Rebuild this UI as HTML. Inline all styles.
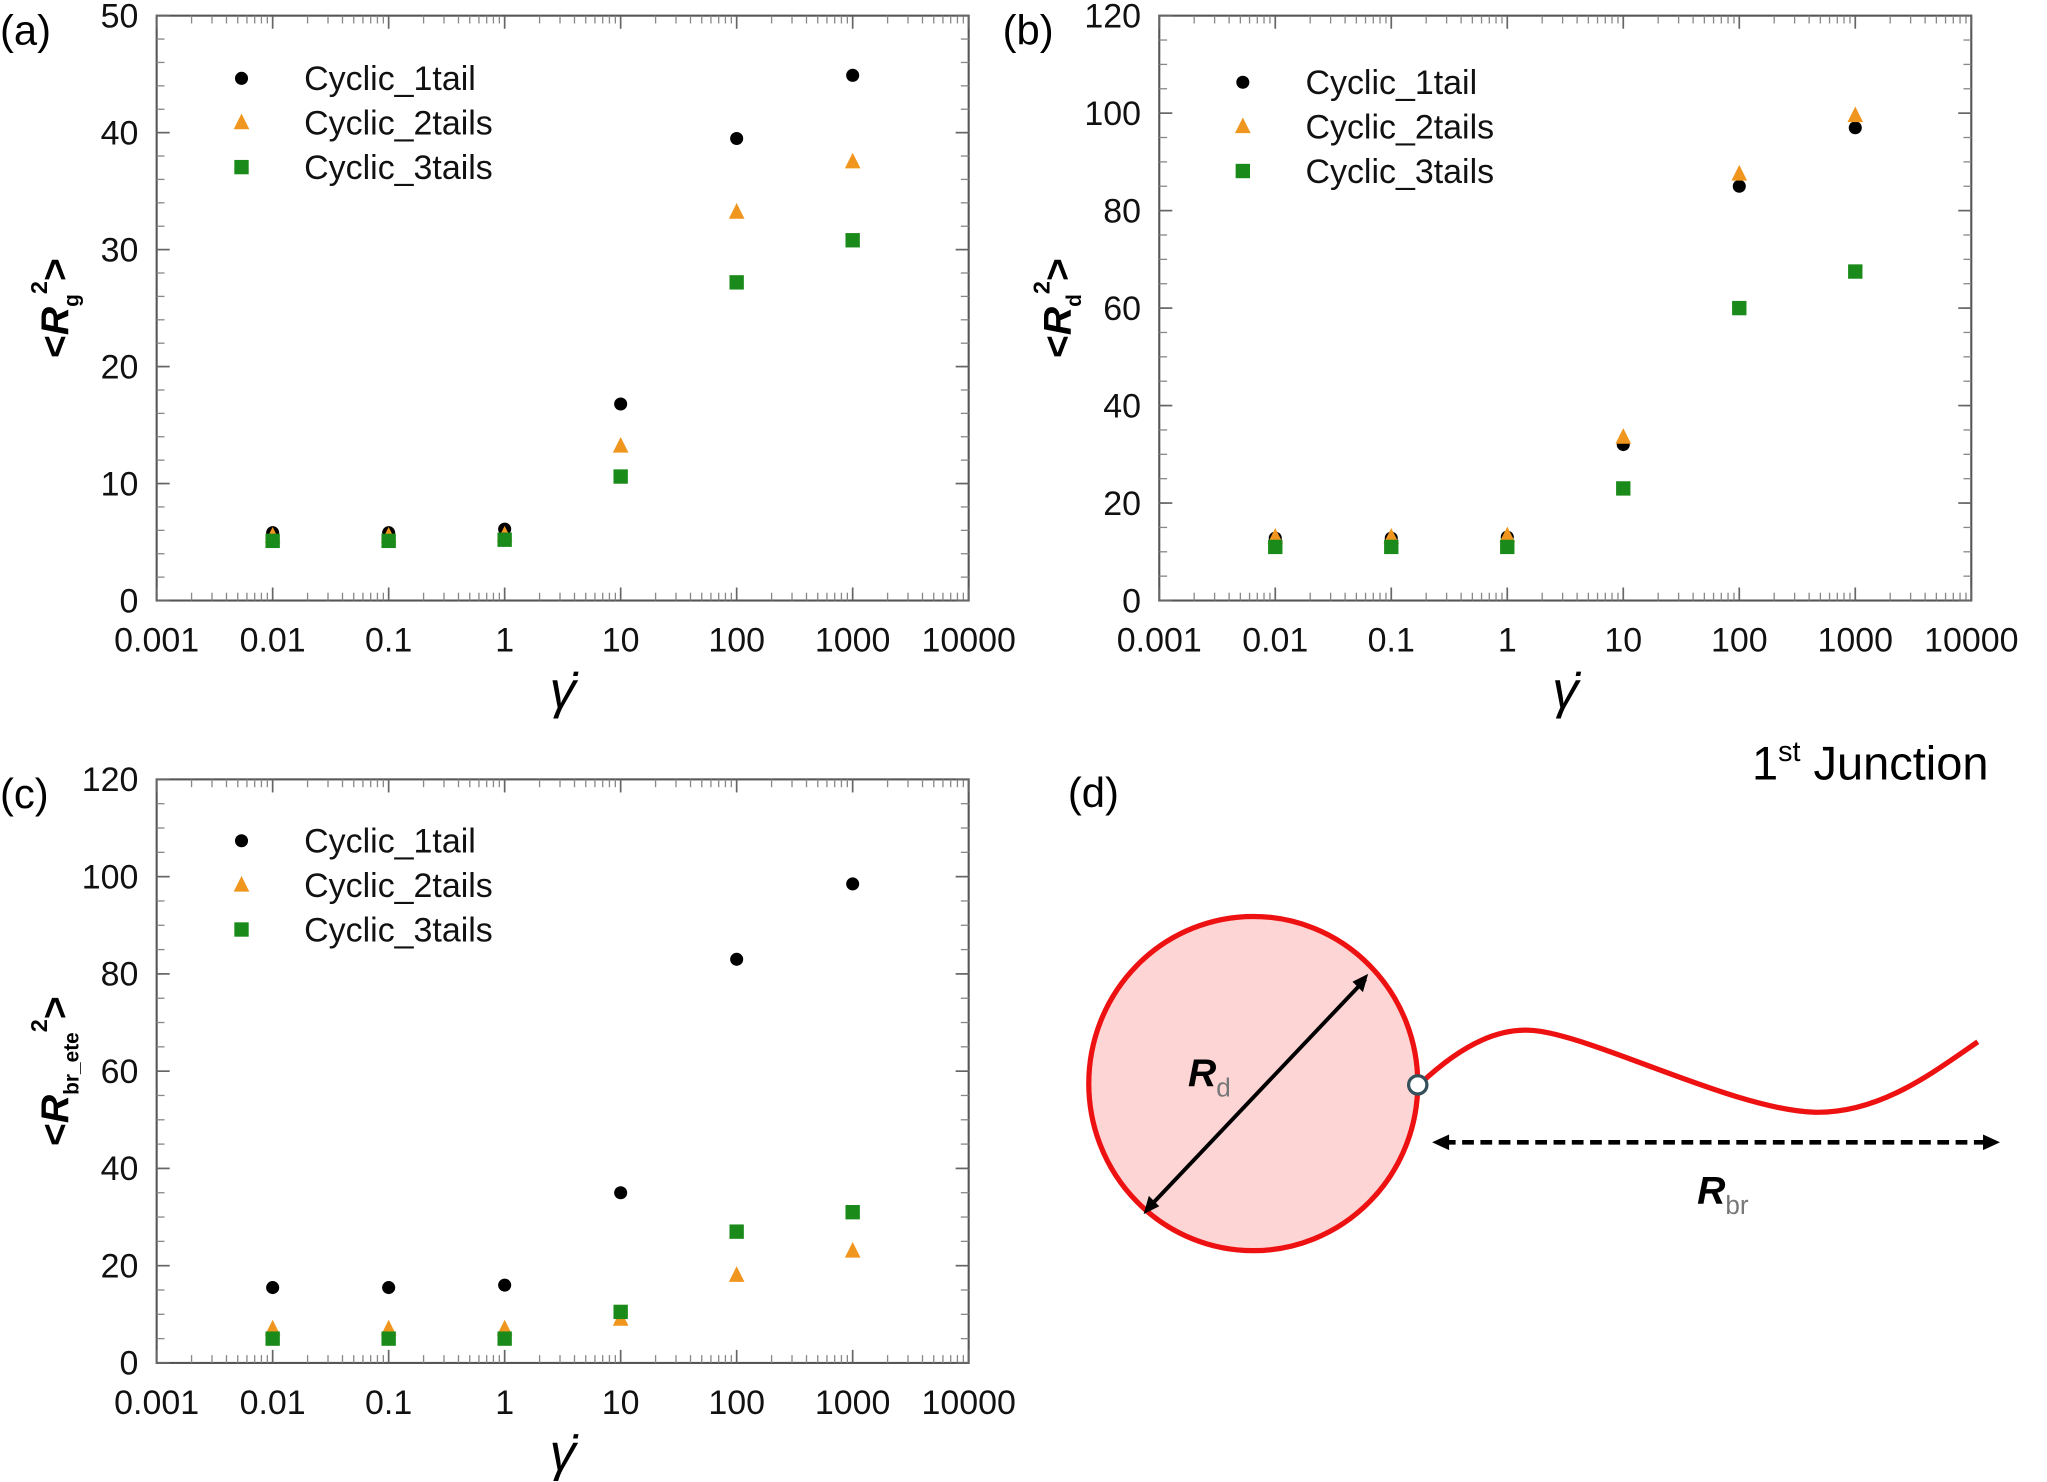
<!DOCTYPE html>
<html><head><meta charset="utf-8"><style>
html,body{margin:0;padding:0;background:#fff}
svg{display:block}
text{font-family:"Liberation Sans",sans-serif}
</style></head><body>
<svg id="fig" width="2047" height="1482" viewBox="0 0 1568 1135.2" preserveAspectRatio="none" xmlns="http://www.w3.org/2000/svg">
<g id="panels"></g>
<g id="diagram">
  <text x="818" y="618" font-size="32" font-family="DejaVu Sans, sans-serif">(d)</text>
  <text x="1342" y="597" font-size="36" font-family="DejaVu Sans, sans-serif">1<tspan font-size="22" dy="-14">st</tspan><tspan dy="14"> Junction</tspan></text>
  <ellipse cx="960" cy="830" rx="126" ry="128" fill="#fdd5d5" stroke="#ee1111" stroke-width="4"/>
  <line x1="879" y1="926" x2="1046" y2="750" stroke="#000" stroke-width="3"/>
  <polygon points="1048,746 1036,752 1044,760" fill="#000"/>
  <polygon points="876,930 880,916 888,924" fill="#000"/>
  <text x="910" y="832" font-size="30" font-weight="bold" font-style="italic">R<tspan font-size="20" font-style="normal" font-weight="normal" fill="#777" dy="8">d</tspan></text>
  <path d="M1088,830 C1120,800 1150,785 1180,790 C1230,798 1330,850 1390,852 C1440,853 1480,822 1515,798" fill="none" stroke="#ee1111" stroke-width="4"/>
  <circle cx="1086" cy="831" r="7" fill="#fff" stroke="#34505a" stroke-width="2.5"/>
  <line x1="1106" y1="875" x2="1522" y2="875" stroke="#000" stroke-width="3.5" stroke-dasharray="9,5"/>
  <polygon points="1097,875 1110,869 1110,881" fill="#000"/>
  <polygon points="1532,875 1519,869 1519,881" fill="#000"/>
  <text x="1300" y="922" font-size="30" font-weight="bold" font-style="italic">R<tspan font-size="20" font-style="normal" font-weight="normal" fill="#777" dy="8">br</tspan></text>
</g>
</svg>
<script>
const xCats = [0.01, 0.1, 1, 10, 100, 1000];
const xTickLabels = ["0.001","0.01","0.1","1","10","100","1000","10000"];
const seriesNames = ["Cyclic_1tail","Cyclic_2tails","Cyclic_3tails"];
const aTail1 = [5.8, 5.8, 6.1, 16.8, 39.5, 44.9];
const aTail2 = [5.5, 5.5, 5.6, 13.2, 33.2, 37.5];
const aTail3 = [5.1, 5.1, 5.2, 10.6, 27.2, 30.8];
const bTail1 = [12.8, 12.8, 13.0, 32.0, 85.0, 97.0];
const bTail2 = [13.0, 13.0, 13.3, 33.5, 87.5, 99.5];
const bTail3 = [11.0, 11.0, 11.0, 23.0, 60.0, 67.5];
const cTail1 = [15.5, 15.5, 16.0, 35.0, 83.0, 98.5];
const cTail2 = [7.0, 7.0, 7.0, 9.0, 18.0, 23.0];
const cTail3 = [5.0, 5.0, 5.0, 10.5, 27.0, 31.0];
const aYTicks = [0,10,20,30,40,50];
const bYTicks = [0,20,40,60,80,100,120];
const cYTicks = [0,20,40,60,80,100,120];

const NS="http://www.w3.org/2000/svg";
const root=document.getElementById('panels');
function mk(tag,attrs,parent){const e=document.createElementNS(NS,tag);for(const k in attrs)e.setAttribute(k,attrs[k]);(parent||root).appendChild(e);return e;}

function panel(id,L,T,R,B,yMax,yTicks,yMinorStep,series,label,ysub,legX,legY){
  const g=mk('g',{});
  
  
  const xs=v=>L+(Math.log10(v)+3)/7*(R-L);
  const ys=v=>B-v/yMax*(B-T);
  const frame=mk('rect',{x:L,y:T,width:R-L,height:B-T,fill:'none',stroke:'#555','stroke-width':1.6},g);
  
  
  for(let d=-3;d<=4;d++){
    const x=xs(Math.pow(10,d));
    mk('line',{x1:x,y1:B,x2:x,y2:B-10,stroke:'#666','stroke-width':1.3},g);
    mk('line',{x1:x,y1:T,x2:x,y2:T+10,stroke:'#666','stroke-width':1.3},g);
    const t=mk('text',{x:x,y:B+39,'font-size':26,'text-anchor':'middle',fill:'#111'},g);
    t.textContent=xTickLabels[d+3];
    
    
    if(d<4)for(let m=2;m<=9;m++){const xm=xs(m*Math.pow(10,d));
      mk('line',{x1:xm,y1:B,x2:xm,y2:B-6,stroke:'#888','stroke-width':1},g);
      mk('line',{x1:xm,y1:T,x2:xm,y2:T+6,stroke:'#888','stroke-width':1},g);}
  }
  for(let v=0;v<=yMax+1e-9;v+=yMinorStep){const y=ys(v);
    mk('line',{x1:L,y1:y,x2:L+6,y2:y,stroke:'#888','stroke-width':1},g);
    mk('line',{x1:R,y1:y,x2:R-6,y2:y,stroke:'#888','stroke-width':1},g);}
  yTicks.forEach(v=>{const y=ys(v);
    mk('line',{x1:L,y1:y,x2:L+10,y2:y,stroke:'#666','stroke-width':1.3},g);
    mk('line',{x1:R,y1:y,x2:R-10,y2:y,stroke:'#666','stroke-width':1.3},g);
    const t=mk('text',{x:L-14,y:y+9,'font-size':26,'text-anchor':'end',fill:'#111'},g);
    t.textContent=v;
    
    
  });
  const pl=mk('text',{x:L-120,y:T+22,'font-size':32,'font-family':'DejaVu Sans, sans-serif'},g);
  pl.textContent=label;
  
  
  const cy=(T+B)/2;
  const yl=mk('text',{x:0,y:0,'font-size':30,'font-weight':'bold','transform':`translate(${L-68},${cy}) rotate(-90)`,'text-anchor':'middle'},g);
  yl.innerHTML=`&lt;<tspan font-style="italic">R</tspan><tspan font-size="16" dy="8">${ysub}</tspan><tspan font-size="18" dy="-24">2</tspan><tspan dy="16">&gt;</tspan>`;
  
  
  const xl=mk('text',{x:(L+R)/2,y:B+82,'font-size':40,'font-style':'italic','text-anchor':'middle','font-family':'Liberation Serif, serif'},g);
  xl.textContent='\u03B3\u0307';
  
  
  const styles=['circle','tri','square'];const cols=['#000','#f0961e','#1a8a1a'];
  const marker=(type,x,y,parent)=>{let e;
    if(type==='circle')e=mk('circle',{cx:x,cy:y,r:5,fill:cols[0]},parent);
    else if(type==='tri')e=mk('polygon',{points:`${x},${y-7} ${x-6},${y+5} ${x+6},${y+5}`,fill:cols[1]},parent);
    else e=mk('rect',{x:x-5.5,y:y-5.5,width:11,height:11,fill:cols[2]},parent);
    return e;};
  series.forEach((arr,si)=>{
    xCats.forEach((c,i)=>{const e=marker(styles[si],xs(c),ys(arr[i]),g);
      
      });
  });
  seriesNames.forEach((n,si)=>{const y=legY+si*34;
    const m=marker(styles[si],legX,y,g);
    
    
    const t=mk('text',{x:legX+48,y:y+9,'font-size':26,fill:'#111'},g);
    t.textContent=n;
    
    });
}
panel('a',120,12,742,460,50,aYTicks,2,[aTail1,aTail2,aTail3],'(a)','g',185,60);
panel('b',888,12,1510,460,120,bYTicks,5,[bTail1,bTail2,bTail3],'(b)','d',952,63);
panel('c',120,597,742,1044,120,cYTicks,5,[cTail1,cTail2,cTail3],'(c)','br_ete',185,644);
</script>
</body></html>
